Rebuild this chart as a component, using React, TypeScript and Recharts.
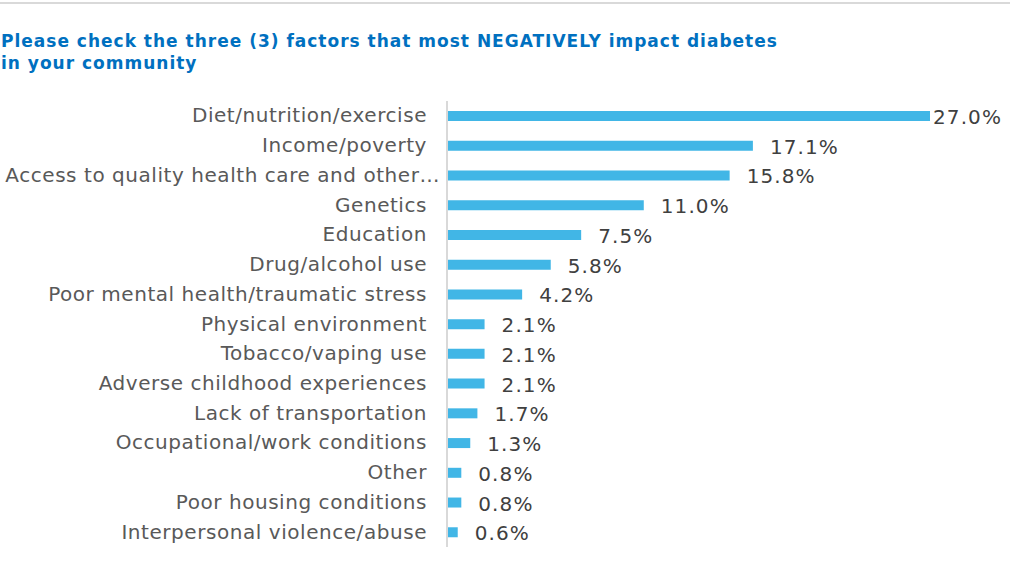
import { BarChart, Bar, XAxis, YAxis, LabelList } from "recharts";

const factors = [
  "Diet/nutrition/exercise",
  "Income/poverty",
  "Access to quality health care and other…",
  "Genetics",
  "Education",
  "Drug/alcohol use",
  "Poor mental health/traumatic stress",
  "Physical environment",
  "Tobacco/vaping use",
  "Adverse childhood experiences",
  "Lack of transportation",
  "Occupational/work conditions",
  "Other",
  "Poor housing conditions",
  "Interpersonal violence/abuse",
];

const shares = [27.0, 17.1, 15.8, 11.0, 7.5, 5.8, 4.2, 2.1, 2.1, 2.1, 1.7, 1.3, 0.8, 0.8, 0.6];

const data = factors.map((name, i) => ({ name, value: shares[i] }));

const FONT = "'DejaVu Sans', Verdana, sans-serif";

function FactorTick(props: any) {
  const { x, y, payload } = props;
  const cut = String(payload.value).endsWith("…");
  return (
    <text
      x={cut ? x + 1 : x - 12}
      y={y}
      dy={6.5}
      textAnchor="end"
      fill="#595959"
      fontSize={20}
      letterSpacing={0.55}
      fontFamily={FONT}
    >
      {payload.value}
    </text>
  );
}

function ValueLabel(props: any) {
  const { x, y, width, height, value } = props;
  const lx = Math.min(x + width + 17, 933);
  return (
    <text
      x={lx}
      y={y + height / 2}
      dy={8}
      fill="#404040"
      fontSize={20}
      letterSpacing={1.1}
      fontFamily={FONT}
    >
      {Number(value).toFixed(1)}%
    </text>
  );
}

export default function App() {
  return (
    <div style={{ position: "absolute", left: 0, top: 0, width: 1010, height: 573, background: "#fff" }}>
      <div style={{ position: "absolute", left: 0, top: 2, width: 1010, height: 2, background: "#d9d9d9" }} />
      <div
        style={{
          position: "absolute",
          left: 1,
          top: 30,
          fontFamily: FONT,
          fontWeight: "bold",
          fontSize: 17,
          letterSpacing: 1,
          lineHeight: "22px",
          color: "#0070c0",
        }}
      >
        Please check the three (3) factors that most NEGATIVELY impact diabetes
        <br />
        in your community
      </div>
      <div style={{ position: "absolute", left: 0, top: 0 }}>
        <BarChart
          width={1010}
          height={573}
          data={data}
          layout="vertical"
          margin={{ top: 101, right: 80, bottom: 26, left: 0 }}
        >
          <XAxis type="number" domain={[0, 27]} hide />
          <YAxis
            type="category"
            dataKey="name"
            width={447}
            axisLine={{ stroke: "#d9d9d9", strokeWidth: 2 }}
            tickLine={false}
            tick={<FactorTick />}
            interval={0}
          />
          <Bar dataKey="value" fill="#41b6e6" barSize={10} isAnimationActive={false}>
            <LabelList dataKey="value" content={<ValueLabel />} />
          </Bar>
        </BarChart>
      </div>
    </div>
  );
}
